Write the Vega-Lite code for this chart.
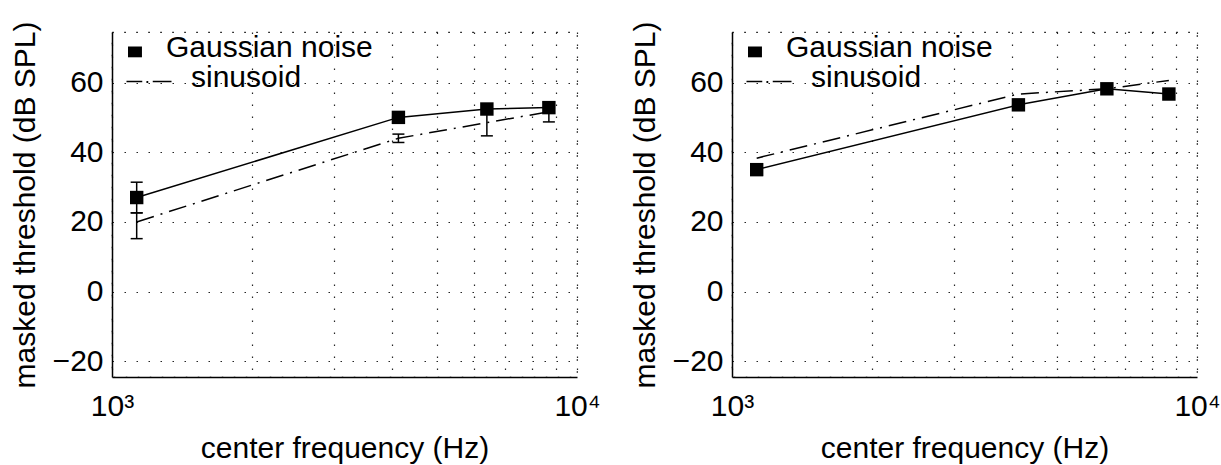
{
  "$schema": "https://vega.github.io/schema/vega-lite/v6.json",
  "background": "white",
  "padding": {"left": 9, "top": 20, "right": 0, "bottom": 0},
  "datasets": {
    "left": [
      {"freq": 1130, "thr": 27, "series": "Gaussian noise"},
      {"freq": 4130, "thr": 50, "series": "Gaussian noise"},
      {"freq": 6400, "thr": 52.4, "series": "Gaussian noise"},
      {"freq": 8700, "thr": 52.8, "series": "Gaussian noise"},
      {"freq": 1130, "thr": 20, "series": "sinusoid"},
      {"freq": 4130, "thr": 44, "series": "sinusoid"},
      {"freq": 6400, "thr": 48.5, "series": "sinusoid"},
      {"freq": 8700, "thr": 51.6, "series": "sinusoid"}
    ],
    "leftErr": [
      {"freq": 1130, "lo": 22.6, "hi": 31.4, "series": "Gaussian noise"},
      {"freq": 1130, "lo": 15.2, "hi": 22.6, "series": "sinusoid"},
      {"freq": 4130, "lo": 42.8, "hi": 45.2, "series": "sinusoid"},
      {"freq": 6400, "lo": 44.7, "hi": 52.3, "series": "sinusoid"},
      {"freq": 8700, "lo": 48.7, "hi": 54.3, "series": "sinusoid"}
    ],
    "right": [
      {"freq": 1130, "thr": 35, "series": "Gaussian noise"},
      {"freq": 4130, "thr": 53.6, "series": "Gaussian noise"},
      {"freq": 6400, "thr": 58.2, "series": "Gaussian noise"},
      {"freq": 8700, "thr": 56.7, "series": "Gaussian noise"},
      {"freq": 1130, "thr": 38.3, "series": "sinusoid"},
      {"freq": 4130, "thr": 56.7, "series": "sinusoid"},
      {"freq": 6400, "thr": 58.2, "series": "sinusoid"},
      {"freq": 8700, "thr": 60.6, "series": "sinusoid"}
    ]
  },
  "spacing": 155,
  "bounds": "flush",
  "resolve": {"legend": {"shape": "independent"}},
  "hconcat": [
    {
      "width": 465,
      "height": 345,
      "data": {"name": "left"},
      "encoding": {
        "x": {"field": "freq", "type": "quantitative", "title": "center frequency (Hz)",
              "scale": {"type": "log", "domain": [1000, 10000], "nice": false},
              "axis": {"values": [1000, 2000, 3000, 4000, 5000, 6000, 7000, 8000, 9000, 10000],
                       "labelExpr": "datum.value == 1000 ? '10³' : datum.value == 10000 ? '10⁴' : ''"}},
        "y": {"field": "thr", "type": "quantitative", "title": "masked threshold (dB SPL)",
              "scale": {"domain": [-24.5, 74.5], "nice": false, "zero": false},
              "axis": {"values": [-20, 0, 20, 40, 60]}}
      },
      "layer": [
        {
          "transform": [{"filter": "datum.series === 'Gaussian noise'"}],
          "mark": {"type": "line", "color": "black", "strokeWidth": 1.5},
          "encoding": {}
        },
        {
          "transform": [{"filter": "datum.series === 'sinusoid'"}],
          "mark": {"type": "line", "color": "black", "strokeWidth": 1.5, "strokeDash": [18, 7, 2, 7]},
          "encoding": {}
        },
        {
          "data": {"name": "leftErr"},
          "mark": {"type": "rule", "color": "black", "strokeWidth": 1.5},
          "encoding": {"y": {"field": "lo", "type": "quantitative"}, "y2": {"field": "hi"}}
        },
        {
          "data": {"name": "leftErr"},
          "mark": {"type": "tick", "orient": "horizontal", "color": "black", "size": 12, "thickness": 1.5, "opacity": 1},
          "encoding": {"y": {"field": "lo", "type": "quantitative"}}
        },
        {
          "data": {"name": "leftErr"},
          "mark": {"type": "tick", "orient": "horizontal", "color": "black", "size": 12, "thickness": 1.5, "opacity": 1},
          "encoding": {"y": {"field": "hi", "type": "quantitative"}}
        },
        {
          "transform": [{"filter": "datum.series === 'Gaussian noise'"}],
          "mark": {"type": "point", "shape": "square", "filled": true, "size": 180, "color": "black", "opacity": 1},
          "encoding": {}
        },
        {
          "transform": [{"filter": "datum.freq < 0"}],
          "mark": {"type": "point", "filled": true, "color": "black", "opacity": 1},
          "encoding": {
            "shape": {"field": "series", "type": "nominal",
                      "scale": {"domain": ["Gaussian noise", "\u200b\u00a0\u00a0\u00a0sinusoid"],
                                "range": ["M-1.4,-0.1H-0.47V0.62H-1.4Z", "M-1.5,0.18H-0.45V0.28H-1.5ZM-0.17,0.2H-0.05V0.33H-0.17ZM0.25,0.18H1.5V0.28H0.25Z"]},
                      "legend": {"orient": "none", "legendX": 22, "legendY": 1, "title": null}}
          }
        }
      ]
    },
    {
      "width": 465,
      "height": 345,
      "data": {"name": "right"},
      "encoding": {
        "x": {"field": "freq", "type": "quantitative", "title": "center frequency (Hz)",
              "scale": {"type": "log", "domain": [1000, 10000], "nice": false},
              "axis": {"values": [1000, 2000, 3000, 4000, 5000, 6000, 7000, 8000, 9000, 10000],
                       "labelExpr": "datum.value == 1000 ? '10³' : datum.value == 10000 ? '10⁴' : ''"}},
        "y": {"field": "thr", "type": "quantitative", "title": "masked threshold (dB SPL)",
              "scale": {"domain": [-24.5, 74.5], "nice": false, "zero": false},
              "axis": {"values": [-20, 0, 20, 40, 60]}}
      },
      "layer": [
        {
          "transform": [{"filter": "datum.series === 'Gaussian noise'"}],
          "mark": {"type": "line", "color": "black", "strokeWidth": 1.5},
          "encoding": {}
        },
        {
          "transform": [{"filter": "datum.series === 'sinusoid'"}],
          "mark": {"type": "line", "color": "black", "strokeWidth": 1.5, "strokeDash": [18, 7, 2, 7]},
          "encoding": {}
        },
        {
          "transform": [{"filter": "datum.series === 'Gaussian noise'"}],
          "mark": {"type": "point", "shape": "square", "filled": true, "size": 180, "color": "black", "opacity": 1},
          "encoding": {}
        },
        {
          "transform": [{"filter": "datum.freq < 0"}],
          "mark": {"type": "point", "filled": true, "color": "black", "opacity": 1},
          "encoding": {
            "shape": {"field": "series", "type": "nominal",
                      "scale": {"domain": ["Gaussian noise", "\u200b\u00a0\u00a0\u00a0sinusoid"],
                                "range": ["M-1.4,-0.1H-0.47V0.62H-1.4Z", "M-1.5,0.18H-0.45V0.28H-1.5ZM-0.17,0.2H-0.05V0.33H-0.17ZM0.25,0.18H1.5V0.28H0.25Z"]},
                      "legend": {"orient": "none", "legendX": 22, "legendY": 1, "title": null}}
          }
        }
      ]
    }
  ],
  "config": {
    "font": "Liberation Sans",
    "view": {"stroke": "black", "strokeDash": [1.5, 10.5], "strokeWidth": 1.2},
    "axis": {
      "labelFont": "Liberation Sans", "labelFontSize": 30, "labelColor": "black",
      "titleFont": "Liberation Sans", "titleFontSize": 30, "titleFontWeight": "normal", "titleColor": "black",
      "domainColor": "black", "domainWidth": 1.5, "ticks": false,
      "grid": true, "gridColor": "black", "gridDash": [1.5, 10.5], "gridWidth": 1.2, "gridOpacity": 0.85
    },
    "axisX": {"labelPadding": 14, "titlePadding": 12, "labelFlush": false, "labelOverlap": false},
    "axisY": {"labelPadding": 9, "titlePadding": 12},
    "legend": {
      "padding": 0, "offset": 0,
      "labelFont": "Liberation Sans", "labelFontSize": 30, "labelColor": "black", "labelLimit": 400,
      "symbolSize": 900, "symbolStrokeWidth": 0, "symbolFillColor": "black",
      "labelOffset": 2, "rowPadding": -2
    }
  }
}
